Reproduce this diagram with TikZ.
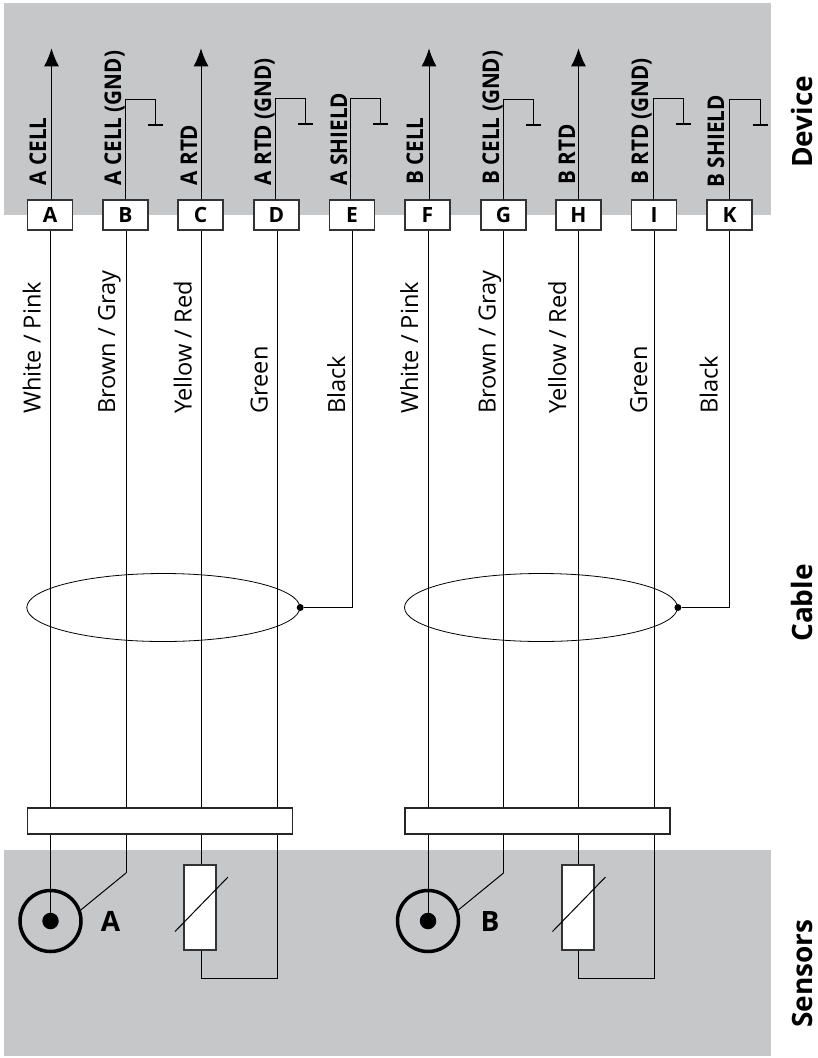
\documentclass[tikz,border=0pt]{standalone}
\usepackage{fontspec}
\usetikzlibrary{arrows.meta,shapes.geometric}
\setmainfont{Open Sans}
\newfontfamily\sigfont[FakeStretch=0.9]{Open Sans}
\begin{document}
\begin{tikzpicture}[x=1pt,y=-1pt,
  wire/.style={draw=black,line width=1pt},
  thinwire/.style={draw=black,line width=1pt},
  pin/.style={draw=black!80,fill=white,line width=1.2pt,minimum width=45pt,minimum height=30pt,inner sep=0pt,font=\fontsize{21}{21}\selectfont\bfseries},
  bus/.style={draw=black!85,fill=white,line width=1.2pt,minimum width=265pt,minimum height=26pt,inner sep=0pt},
  rtd/.style={draw=black!80,fill=white,line width=1.2pt,minimum width=32pt,minimum height=85pt,inner sep=0pt},
  sig/.style={rotate=90,anchor=base west,inner sep=0pt,font=\fontsize{23}{23}\sigfont\bfseries},
  col/.style={rotate=90,anchor=base west,inner sep=0pt,font=\fontsize{23.6}{24}\selectfont},
  zone/.style={rotate=90,anchor=base west,inner sep=0pt,font=\fontsize{28}{28}\selectfont\bfseries},
  sens/.style={anchor=center,inner sep=0pt,font=\fontsize{28}{28}\selectfont\bfseries},
  cable/.style={draw=black,line width=0.8pt,ellipse,minimum width=273pt,minimum height=68pt,inner sep=0pt},
  ring/.style={circle,draw=black,line width=3.5pt,fill=none,minimum size=61pt,inner sep=0pt},
  core/.style={circle,fill=black,minimum size=16.5pt,inner sep=0pt},
  tap/.style={circle,fill=black,minimum size=7pt,inner sep=0pt},
  arrowup/.style={-{Latex[length=18pt,width=15pt]}},
]
\useasboundingbox (0,0) rectangle (818,1058);
\fill[fill=white] (0,0) rectangle (818,1058);
\definecolor{zonegray}{RGB}{198,199,201}
\fill[zonegray] (4,3) rectangle (771,215);
\fill[zonegray] (4,850) rectangle (771,1056);

% ---- pins
\foreach \n/\t/\x in {A/A/50,B/B/125.5,C/C/200.5,D/D/276.5,E/E/352,F/F/427.5,G/G/503.5,H/H/578.5,I/I/654,K/K/729.5}
  \node[pin] (\n) at (\x,215) {\t};

% ---- signal labels
\node[sig] (sa) at (46,185.5) {A CELL};
\node[sig] (sb) at (121,185.5) {A CELL (GND)};
\node[sig] (sc) at (197,185.5) {A RTD};
\node[sig] (sd) at (271,185.5) {A RTD (GND)};
\node[sig] (se) at (347,185.5) {A SHIELD};
\node[sig] (sf) at (423,185) {B CELL};
\node[sig] (sg) at (499,185) {B CELL (GND)};
\node[sig] (sh) at (575,185) {B RTD};
\node[sig] (si) at (648,185) {B RTD (GND)};
\node[sig] (sk) at (724,187.5) {B SHIELD};

% ---- colour labels
\node[col] (ca) at (40.5,414) {White / Pink};
\node[col] (cb) at (115,414) {Brown / Gray};
\node[col] (cc) at (191.5,414) {Yellow / Red};
\node[col] (cd) at (267.5,414) {Green};
\node[col] (ce) at (345,414) {Black};
\node[col] (cf) at (418,414) {White / Pink};
\node[col] (cg) at (495.5,414) {Brown / Gray};
\node[col] (ch) at (566,414) {Yellow / Red};
\node[col] (ci) at (647,414) {Green};
\node[col] (ck) at (717.5,414) {Black};

% ---- zone labels
\node[zone] (zd) at (812.5,168) {Device};
\node[zone] (zc) at (812,642) {Cable};
\node[zone] (zs) at (812,1028) {Sensors};

% ---- bus bars
\node[bus] (busa) at (160,821) {};
\node[bus] (busb) at (537.5,821) {};

% ---- device side: signal arrows
\draw[wire,arrowup] ([xshift=1.5pt]A.north) -- ++(0,-151);
\draw[wire,arrowup] ([xshift=0.5pt]C.north) -- ++(0,-151);
\draw[wire,arrowup] ([xshift=1.5pt]F.north) -- ++(0,-151);
\draw[wire,arrowup] (H.north) -- ++(0,-151);

% ---- device side: grounds
\foreach \n/\dx/\top/\w/\b in {B/0/99/30/125,D/-1/98/30/124,E/-1.5/98/30/124,G/-0.5/99/30.5/125,I/-1/98/30.5/124,K/-0.5/99/31/125}{
  \coordinate (t\n) at ([xshift=\dx pt]\n.north);
  \coordinate (ytop) at (0,\top);
  \coordinate (ybot) at (0,\b);
  \coordinate (c\n) at (t\n |- ytop);
  \coordinate (g\n) at ([xshift=\w pt]c\n);
  \coordinate (h\n) at (g\n |- ybot);
  \draw[thinwire] (t\n) -- (c\n) -- (g\n) -- (h\n);
  \draw[black,line width=2pt] ([xshift=-7.5pt]h\n) -- ([xshift=7.5pt]h\n);
}

% ---- wires from pins to bus
\foreach \n/\dx/\b in {A/0.5/busa,B/0.5/busa,C/0.5/busa,D/0.5/busa,F/0.5/busb,G/0/busb,H/0/busb,I/0/busb}{
  \coordinate (w\n) at ([xshift=\dx pt]\n.south);
  \draw[wire] (w\n) -- (w\n |- \b.north);
}

% ---- cable screens
\node[cable] (ella) at (163.3,607.5) {};
\node[cable] (ellb) at (541,607.5) {};
\node[tap] (ta) at (ella.east) {};
\node[tap] (tb) at (ellb.east) {};
\draw[wire] (ta) -| (E.south);
\draw[wire] (tb) -| (K.south);

% ---- sensor A
\node[ring] (ra) at (50.5,921) {};
\node[core] (coa) at (ra.center) {};
\draw[wire] (wA |- busa.south) -- (coa);
\coordinate (kna) at (126,873);
\draw[wire] (wB |- busa.south) -- (kna);
\draw[thinwire] (kna) -- (ra.20);
\node[sens] (la) at (110.5,921) {A};
\node[rtd] (ra1) at (200,907.5) {};
\draw[wire] (wC |- busa.south) -- (wC |- ra1.north);
\coordinate (cor1) at (201,978);
\coordinate (cor2) at (277,978);
\draw[wire] (wC |- ra1.south) -- (cor1) -- (cor2) -- (wD |- busa.south);
\draw[thinwire] (175,931.5) -- (228,877);

% ---- sensor B
\node[ring] (rb) at (428,921) {};
\node[core] (cob) at (rb.center) {};
\draw[wire] (wF |- busb.south) -- (cob);
\coordinate (knb) at (503.5,873);
\draw[wire] (wG |- busb.south) -- (knb);
\draw[thinwire] (knb) -- (rb.20);
\node[sens] (lb) at (490,921) {B};
\node[rtd] (rb1) at (578,907.5) {};
\draw[wire] (wH |- busb.south) -- (wH |- rb1.north);
\coordinate (cor3) at (578.5,978);
\coordinate (cor4) at (654,978);
\draw[wire] (wH |- rb1.south) -- (cor3) -- (cor4) -- (wI |- busb.south);
\draw[thinwire] (552.5,931.5) -- (605.5,877);
\end{tikzpicture}
\end{document}
